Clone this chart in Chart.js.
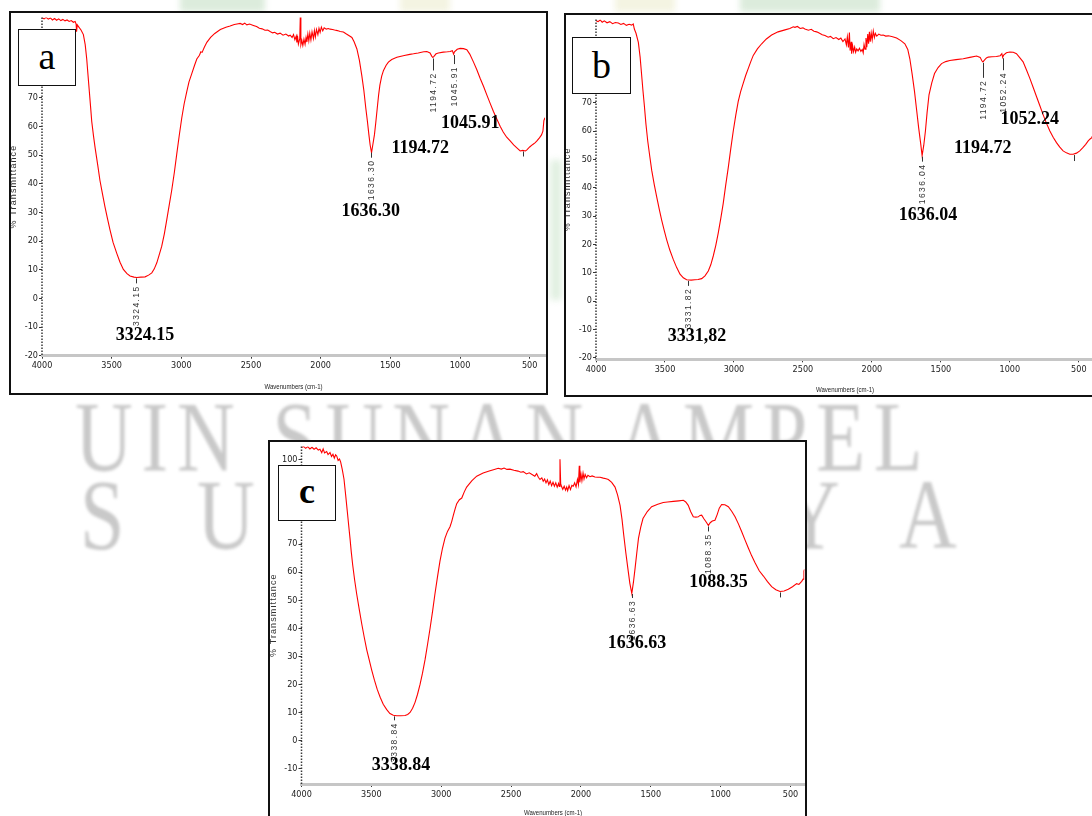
<!DOCTYPE html>
<html><head><meta charset="utf-8">
<script src="https://cdn.jsdelivr.net/npm/chart.js@4.4.1/dist/chart.umd.min.js"></script>
<style>
html,body{margin:0;padding:0;width:1092px;height:816px;overflow:hidden;background:#fff;position:relative;}
.wm{position:absolute;font-family:'Liberation Serif','Times New Roman',serif;color:#c9c9c9;filter:blur(1.8px);white-space:pre;line-height:1;font-size:100px;}
.blob{position:absolute;filter:blur(3px);}
canvas{position:absolute;background:#fff;}
.frame{position:absolute;border:2px solid #111;box-sizing:border-box;pointer-events:none;}
.tag{position:absolute;border:1.5px solid #111;background:#fff;box-sizing:border-box;font-family:'Liberation Serif','Times New Roman',serif;color:#000;display:flex;align-items:center;justify-content:center;line-height:1;}
</style></head><body>

<!-- watermark -->
<div class="blob" style="left:180px;top:-12px;width:85px;height:24px;background:#dcecdc"></div>
<div class="blob" style="left:400px;top:-12px;width:50px;height:24px;background:#f4f4e2"></div>
<div class="blob" style="left:615px;top:-12px;width:60px;height:24px;background:#f4f4e2"></div>
<div class="blob" style="left:740px;top:-12px;width:140px;height:24px;background:#dcecdc"></div>
<div class="blob" style="left:550px;top:160px;width:12px;height:140px;background:#e2f0e2"></div>
<div class="wm" style="left:75px;top:387px;letter-spacing:11px;transform:scaleX(0.8);transform-origin:0 0">UIN SUNAN AMPEL</div>
<div class="wm" style="left:80px;top:465px;transform:scaleX(0.8);transform-origin:0 0">S</div>
<div class="wm" style="left:197px;top:465px;transform:scaleX(0.8);transform-origin:0 0">U</div>
<div class="wm" style="left:314px;top:465px;transform:scaleX(0.8);transform-origin:0 0">R</div>
<div class="wm" style="left:431px;top:465px;transform:scaleX(0.8);transform-origin:0 0">A</div>
<div class="wm" style="left:548px;top:465px;transform:scaleX(0.8);transform-origin:0 0">B</div>
<div class="wm" style="left:665px;top:465px;transform:scaleX(0.8);transform-origin:0 0">A</div>
<div class="wm" style="left:782px;top:465px;transform:scaleX(0.8);transform-origin:0 0">Y</div>
<div class="wm" style="left:899px;top:465px;transform:scaleX(0.8);transform-origin:0 0">A</div>

<canvas id="ca" width="539" height="384" style="left:9px;top:11px"></canvas>
<canvas id="cb" width="540" height="384" style="left:564px;top:13px"></canvas>
<canvas id="cc" width="539" height="380" style="left:268px;top:440px"></canvas>

<div class="frame" style="left:9px;top:11px;width:539px;height:384px"></div>
<div class="frame" style="left:564px;top:13px;width:560px;height:384px"></div>
<div class="frame" style="left:268px;top:440px;width:539px;height:390px"></div>

<div class="tag" style="left:18px;top:29px;width:58px;height:57px;font-size:38px;padding-bottom:4px">a</div>
<div class="tag" style="left:572px;top:37px;width:59px;height:57px;font-size:38px;padding-bottom:2px">b</div>
<div class="tag" style="left:278px;top:465px;width:58px;height:56px;font-size:36px;font-weight:bold;padding-bottom:4px">c</div>

<script>
// ---------- data (wavenumber cm-1, %T) ----------
const specA = [[4000,97.9],[3985,97.5],[3970,98.0],[3955,97.4],[3940,97.8],[3925,97.1],[3910,97.6],[3895,97.0],[3880,97.5],[3865,96.9],[3850,97.3],[3835,96.8],[3820,97.1],[3805,96.6],[3790,96.9],[3775,96.3],[3762,96.6],[3755,95.6],[3752,93.0],[3747,95.4],[3738,94.8],[3720,93.6],[3703,92.0],[3690,88.5],[3679,83.5],[3670,78.0],[3660,72.0],[3650,66.0],[3643,61.7],[3630,56.5],[3619,52.6],[3600,46.5],[3584,41.1],[3565,36.2],[3548,31.9],[3530,27.8],[3512,23.9],[3490,19.5],[3464,15.8],[3440,12.6],[3416,10.1],[3390,8.6],[3368,7.8],[3340,7.4],[3320,7.3],[3290,7.4],[3260,7.5],[3235,8.1],[3212,8.9],[3195,10.2],[3176,12.4],[3160,15.0],[3141,18.1],[3122,22.5],[3105,27.3],[3087,32.5],[3069,37.7],[3050,44.0],[3033,50.3],[3015,56.8],[2997,62.9],[2980,67.8],[2961,72.1],[2945,75.5],[2925,78.4],[2905,81.3],[2889,83.5],[2870,84.8],[2860,86.0],[2851,85.8],[2835,87.6],[2817,89.3],[2790,91.0],[2760,92.4],[2720,93.8],[2680,94.6],[2650,95.0],[2620,95.5],[2600,95.7],[2578,95.9],[2560,95.5],[2545,96.0],[2530,95.4],[2510,95.7],[2483,95.2],[2460,94.8],[2440,94.2],[2420,94.0],[2400,93.5],[2380,93.6],[2363,93.1],[2345,92.6],[2330,92.8],[2310,92.2],[2291,92.5],[2270,91.8],[2250,92.2],[2230,91.5],[2219,91.8],[2205,91.0],[2195,92.0],[2185,90.2],[2175,91.5],[2171,89.3],[2165,91.0],[2160,88.7],[2150,90.6],[2146,98.8],[2142,88.5],[2135,90.0],[2128,88.2],[2120,90.4],[2112,88.6],[2105,91.0],[2099,89.4],[2092,92.2],[2085,89.8],[2078,92.5],[2070,90.1],[2062,93.0],[2052,90.6],[2045,93.4],[2038,91.2],[2030,93.8],[2020,92.0],[2012,94.2],[2004,92.8],[1995,94.6],[1985,93.3],[1975,94.4],[1960,93.9],[1945,94.1],[1932,93.9],[1915,93.8],[1900,93.6],[1880,93.4],[1860,93.1],[1837,92.9],[1815,92.2],[1795,91.6],[1776,91.0],[1760,89.5],[1740,87.0],[1722,83.0],[1705,77.8],[1690,72.5],[1676,66.3],[1664,61.5],[1654,57.1],[1645,53.5],[1635,50.8],[1626,53.5],[1614,57.1],[1604,61.5],[1594,66.3],[1584,71.0],[1575,74.4],[1562,77.5],[1549,79.5],[1530,81.3],[1514,82.4],[1490,83.3],[1453,84.1],[1400,84.7],[1360,85.1],[1334,85.3],[1300,85.6],[1260,86.0],[1238,86.1],[1215,85.6],[1203,84.5],[1195,84.0],[1187,84.4],[1172,85.3],[1155,85.6],[1120,85.9],[1090,86.0],[1071,86.1],[1055,86.4],[1046,85.2],[1040,86.0],[1020,86.9],[999,87.2],[975,87.1],[951,86.7],[930,85.2],[903,82.4],[880,79.8],[855,76.7],[830,73.8],[807,70.9],[785,68.2],[760,65.2],[735,62.5],[712,60.0],[690,58.0],[665,56.2],[640,54.9],[615,53.5],[590,52.4],[568,51.4],[550,51.6],[530,51.4],[520,51.8],[500,52.8],[480,53.6],[460,54.3],[448,54.9],[430,56.0],[415,57.0],[405,58.3],[398,62.0],[390,63.0]];

const specB = [[4000,99.0],[3985,98.6],[3970,99.2],[3955,98.4],[3940,98.9],[3920,98.2],[3900,98.6],[3880,97.9],[3860,98.3],[3838,98.1],[3820,97.6],[3800,98.0],[3780,97.3],[3760,97.7],[3741,97.4],[3730,97.8],[3722,96.0],[3710,94.5],[3693,91.3],[3680,86.0],[3669,79.7],[3660,74.5],[3650,69.3],[3638,62.5],[3625,56.5],[3610,51.0],[3596,46.1],[3578,41.2],[3560,36.8],[3542,32.5],[3524,28.6],[3506,25.0],[3488,21.7],[3465,18.0],[3440,14.7],[3415,11.8],[3391,9.5],[3367,8.2],[3343,7.5],[3310,7.4],[3283,7.5],[3260,7.6],[3234,7.9],[3210,8.9],[3186,10.6],[3168,12.8],[3150,15.9],[3132,19.6],[3114,24.0],[3096,29.0],[3078,34.4],[3060,40.8],[3041,47.2],[3023,53.8],[3005,60.0],[2987,65.5],[2969,70.5],[2951,74.0],[2933,76.8],[2915,79.6],[2896,82.1],[2878,84.5],[2860,86.7],[2830,89.0],[2799,90.8],[2765,92.5],[2727,93.9],[2680,95.0],[2630,95.7],[2595,96.2],[2570,96.8],[2558,96.6],[2540,96.9],[2520,96.2],[2500,96.4],[2486,96.0],[2460,95.6],[2440,95.9],[2420,95.2],[2400,95.0],[2389,94.8],[2360,94.0],[2340,93.7],[2317,93.1],[2300,93.4],[2280,92.6],[2260,93.0],[2240,92.3],[2225,92.8],[2210,91.6],[2195,92.5],[2185,90.4],[2178,93.2],[2170,89.5],[2163,94.8],[2158,88.4],[2150,91.5],[2147,87.3],[2140,90.2],[2133,88.0],[2125,89.6],[2118,87.8],[2110,89.0],[2100,88.3],[2090,89.2],[2080,88.1],[2070,88.8],[2063,87.6],[2057,90.5],[2050,88.9],[2043,92.8],[2037,89.6],[2030,94.2],[2024,90.8],[2018,95.0],[2012,91.5],[2005,94.6],[1998,92.2],[1990,95.3],[1982,93.0],[1975,94.5],[1965,93.5],[1950,94.2],[1935,93.8],[1918,93.9],[1900,93.5],[1880,93.6],[1850,93.3],[1821,92.8],[1790,91.9],[1761,90.8],[1740,88.8],[1725,85.5],[1708,80.0],[1691,73.9],[1676,67.5],[1661,61.1],[1647,55.8],[1636,51.3],[1624,55.0],[1612,60.0],[1600,66.5],[1586,72.8],[1566,77.0],[1546,80.3],[1520,82.4],[1495,83.8],[1465,84.5],[1435,84.9],[1390,85.2],[1338,85.5],[1290,86.0],[1241,86.5],[1215,86.0],[1203,84.8],[1195,84.4],[1186,84.9],[1170,85.8],[1157,86.1],[1130,86.2],[1097,86.3],[1070,86.6],[1058,87.3],[1052,86.0],[1045,86.8],[1025,87.6],[1000,87.9],[975,87.8],[952,87.3],[930,86.0],[904,84.4],[880,81.6],[855,78.6],[830,75.3],[807,72.2],[783,69.0],[759,65.8],[735,62.8],[710,60.0],[686,57.8],[662,55.9],[638,54.3],[614,53.0],[590,52.3],[565,51.8],[541,51.8],[517,52.2],[493,53.0],[469,54.2],[450,55.3],[432,56.5],[418,57.2],[406,57.7],[395,59.0],[390,60.0]];

const specC = [[4000,104.4],[3985,104.8],[3970,104.1],[3955,104.7],[3940,103.9],[3925,104.5],[3910,103.8],[3895,104.3],[3880,103.5],[3868,103.8],[3855,102.6],[3845,103.9],[3835,102.5],[3820,103.0],[3810,101.9],[3796,102.6],[3785,101.2],[3775,102.0],[3765,100.6],[3756,101.8],[3748,101.4],[3738,99.8],[3728,100.3],[3720,99.3],[3708,96.5],[3696,93.2],[3684,87.5],[3672,81.5],[3662,76.5],[3653,72.1],[3644,67.3],[3634,62.7],[3620,57.3],[3605,52.2],[3587,46.8],[3569,41.6],[3551,36.8],[3533,32.3],[3515,28.6],[3498,25.2],[3478,21.5],[3458,18.2],[3437,15.4],[3415,12.9],[3390,11.0],[3367,9.6],[3343,9.0],[3319,8.8],[3290,8.8],[3259,8.9],[3240,9.3],[3223,10.0],[3205,11.5],[3188,13.5],[3170,16.4],[3152,19.9],[3134,24.0],[3116,28.7],[3098,34.2],[3080,39.9],[3062,46.0],[3045,52.2],[3027,58.2],[3009,63.9],[2991,68.5],[2973,72.1],[2955,74.5],[2937,76.2],[2925,78.0],[2913,80.3],[2900,82.6],[2889,84.4],[2870,85.8],[2853,86.4],[2835,88.6],[2818,90.3],[2780,92.6],[2746,94.2],[2700,95.3],[2651,96.1],[2620,96.6],[2592,97.0],[2570,96.7],[2550,97.1],[2530,96.6],[2508,96.7],[2480,96.3],[2450,96.0],[2430,95.6],[2413,95.8],[2390,95.0],[2370,95.4],[2350,94.8],[2330,94.2],[2317,95.1],[2305,93.8],[2293,93.0],[2280,93.6],[2270,92.4],[2260,93.2],[2250,91.8],[2240,92.9],[2230,91.2],[2220,92.4],[2210,90.8],[2200,92.0],[2190,90.6],[2180,91.8],[2170,90.3],[2160,91.6],[2155,90.5],[2150,100.2],[2145,91.5],[2138,90.4],[2130,89.5],[2120,90.6],[2110,89.2],[2102,90.3],[2095,89.0],[2085,90.8],[2075,89.4],[2065,90.9],[2055,90.6],[2045,91.8],[2035,90.4],[2025,93.0],[2018,91.2],[2012,97.9],[2008,92.0],[2000,95.0],[1993,92.6],[1985,95.3],[1978,93.2],[1970,94.8],[1960,93.6],[1950,94.5],[1935,94.0],[1920,94.3],[1900,93.9],[1880,93.8],[1863,93.8],[1840,93.5],[1820,93.3],[1804,93.0],[1780,92.0],[1756,90.3],[1738,87.5],[1720,83.8],[1706,78.8],[1694,73.3],[1679,67.0],[1665,61.6],[1650,56.0],[1636,52.4],[1624,56.5],[1612,61.6],[1600,67.0],[1588,72.1],[1572,76.0],[1556,79.1],[1525,81.6],[1494,83.3],[1450,84.2],[1411,84.8],[1380,85.0],[1339,85.2],[1300,85.4],[1267,85.6],[1250,85.0],[1232,83.8],[1215,81.6],[1196,79.7],[1178,79.6],[1160,79.7],[1148,80.2],[1136,80.3],[1120,79.0],[1100,77.6],[1088,76.6],[1075,77.6],[1060,78.2],[1041,78.5],[1025,80.5],[1010,82.8],[993,84.1],[970,84.0],[945,83.3],[920,81.6],[897,79.7],[873,77.2],[850,74.5],[826,71.5],[802,68.6],[778,65.8],[754,63.3],[724,60.5],[694,58.6],[665,56.6],[635,54.8],[605,53.7],[575,53.1],[546,53.3],[516,53.9],[486,54.8],[456,55.9],[440,55.6],[420,56.7],[410,57.5],[404,60.4],[400,61.0]];

// tick labels
const xTicks = [4000,3500,3000,2500,2000,1500,1000,500];
const yTicksAB = [-20,-10,0,10,20,30,40,50,60,70,80,90];
const yTicksC = [-10,0,10,20,30,40,50,60,70,80,90,100];

// peak annotations (small vertical labels)
const peaksA = [3324.15,1636.30,1194.72,1045.91,547];
const peakTextA = ['3324.15','1636.30','1194.72','1045.91',''];
const peaksB = [3331.82,1636.04,1194.72,1052.24,536];
const peakTextB = ['3331.82','1636.04','1194.72','1052.24',''];
const peaksC = [3338.84,1636.63,1088.35,576];
const peakTextC = ['3338.84','1636.63','1088.35',''];

// large bold labels: text, wavenumber, %T
const bigTextA = ['3324.15','1636.30','1194.72','1045.91'];
const bigWnA = [3260,1641,1286,927];
const bigTA = [-12.8,30.5,52.3,61.2];
const bigTextB = ['3331,82','1636.04','1194.72','1052.24'];
const bigWnB = [3268,1594,1196,855];
const bigTB = [-12.4,30.1,53.9,64.0];
const bigTextC = ['3338.84','1636.63','1088.35'];
const bigWnC = [3288,1599,1016];
const bigTC = [-8.8,34.5,56.3];

// ---------- drawing ----------
const NARROW = "'Liberation Sans Narrow','Arial Narrow','DejaVu Sans Condensed',sans-serif";
function interp(spec, w){
  for (let i=0;i<spec.length-1;i++){
    const [w0,t0]=spec[i],[w1,t1]=spec[i+1];
    if (w<=w0 && w>=w1){ const f=(w0-w)/(w0-w1); return t0+f*(t1-t0); }
  }
  return spec[spec.length-1][1];
}

const annot = {
  id:'annot',
  afterDatasetsDraw(chart, args, o){
    const {ctx, chartArea:ca, scales:{x,y}} = chart;
    ctx.save();
    // dotted y axis
    ctx.setLineDash([1.5,1.5]); ctx.strokeStyle='#3a3a3a'; ctx.lineWidth=1.5;
    ctx.beginPath(); ctx.moveTo(ca.left, ca.top); ctx.lineTo(ca.left, ca.bottom); ctx.stroke();
    ctx.setLineDash([]);
    // peak markers
    o.peaks.forEach((w,i)=>{
      const v = interp(o.spec, w);
      const px = Math.round(x.getPixelForValue(w))+0.5, py = y.getPixelForValue(v);
      const len = o.tickLen[i];
      ctx.strokeStyle='#333'; ctx.lineWidth=1;
      ctx.beginPath(); ctx.moveTo(px, py+1); ctx.lineTo(px, py+1+len); ctx.stroke();
      if (o.peakText[i]){
        ctx.save(); ctx.translate(px, py+len+3); ctx.rotate(-Math.PI/2);
        ctx.font = '8.5px "Liberation Sans", Arial, sans-serif';
        ctx.letterSpacing = '1.4px';
        ctx.fillStyle='#333'; ctx.textAlign='right'; ctx.textBaseline='middle';
        ctx.fillText(o.peakText[i], 0, 0); ctx.restore();
      }
    });
    // big labels
    ctx.font = 'bold 18px "Liberation Serif","Times New Roman",serif';
    ctx.fillStyle='#000'; ctx.textAlign='center'; ctx.textBaseline='middle';
    o.bigText.forEach((t,i)=>{
      ctx.fillText(t, x.getPixelForValue(o.bigWn[i]), y.getPixelForValue(o.bigT[i]));
    });
    // axis titles
    ctx.save();
    ctx.translate(ca.left-28, (ca.top+ca.bottom)/2); ctx.rotate(-Math.PI/2);
    ctx.font='9px "Liberation Sans", Arial, sans-serif'; ctx.letterSpacing='1.1px';
    ctx.fillStyle='#333'; ctx.textAlign='center'; ctx.textBaseline='middle';
    ctx.fillText('% Transmittance',0,0); ctx.restore();
    ctx.save();
    ctx.translate((ca.left+ca.right)/2, ca.bottom+o.xTitleOff); ctx.scale(0.8,1);
    ctx.font='7.6px "Liberation Sans", Arial, sans-serif';
    ctx.fillStyle='#222'; ctx.textAlign='center'; ctx.textBaseline='middle';
    ctx.fillText('Wavenumbers (cm-1)',0,0); ctx.restore();
    ctx.restore();
  }
};

function makeChart(id, spec, yMin, yMax, xMin, yTicks, pad, xH, ann){
  return new Chart(document.getElementById(id), {
    type:'line',
    data:{datasets:[{data: spec.map(([w,t])=>({x:w,y:t})), borderColor:'#ff0000', borderWidth:1.1, pointRadius:0, tension:0, fill:false}]},
    options:{
      responsive:false, animation:false, devicePixelRatio:1,
      layout:{padding:{top:pad.top,right:pad.right,left:0,bottom:0}},
      plugins:{legend:{display:false}, tooltip:{enabled:false}, annot:Object.assign({spec}, ann)},
      scales:{
        x:{type:'linear', reverse:true, min:xMin, max:4000,
           afterBuildTicks:s=>{s.ticks = xTicks.map(v=>({value:v}));},
           afterFit:s=>{s.height = xH;},
           grid:{drawOnChartArea:false, drawTicks:true, tickLength:3, color:'#333', lineWidth:1},
           border:{display:true, color:'#c6c6c6', width:3},
           ticks:{font:{family:NARROW,size:9}, color:'#222', padding:2, maxRotation:0, autoSkip:false, callback:v=>String(v)}},
        y:{type:'linear', min:yMin, max:yMax,
           afterBuildTicks:s=>{s.ticks = yTicks.map(v=>({value:v}));},
           afterFit:s=>{s.width = pad.left;},
           grid:{drawOnChartArea:false, drawTicks:true, tickLength:3, color:'#333', lineWidth:1},
           border:{display:false},
           ticks:{font:{family:NARROW,size:9}, color:'#222', padding:1, autoSkip:false, callback:v=>String(v)}}
      }
    },
    plugins:[annot]
  });
}

makeChart('ca', specA, -20, 98, 390, yTicksAB, {top:2,right:3,left:33}, 39.3,
  {peaks:peaksA, peakText:peakTextA, tickLen:[5,5,12,9,5], bigText:bigTextA, bigWn:bigWnA, bigT:bigTA, xTitleOff:31});
makeChart('cb', specB, -20.56, 99.4, 390, yTicksAB, {top:2,right:10,left:32}, 37.7,
  {peaks:peaksB, peakText:peakTextB, tickLen:[5,5,15,12,6], bigText:bigTextB, bigWn:bigWnB, bigT:bigTB, xTitleOff:31});
makeChart('cc', specC, -15.5, 104.8, 400, yTicksC, {top:2,right:2.5,left:33.5}, 36,
  {peaks:peaksC, peakText:peakTextC, tickLen:[4,4,5,5], bigText:bigTextC, bigWn:bigWnC, bigT:bigTC, xTitleOff:29});
</script>
</body></html>
